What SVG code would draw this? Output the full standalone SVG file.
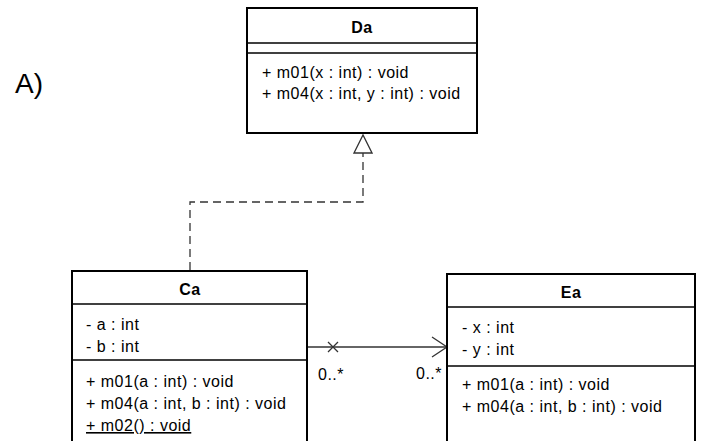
<svg xmlns="http://www.w3.org/2000/svg" width="703" height="441" viewBox="0 0 703 441">
<style>
.box{fill:#fff;stroke:#000;stroke-width:2}
.sep{stroke:#000;stroke-width:1.5}
.t{font-family:"Liberation Sans",Arial,sans-serif;font-size:16px;letter-spacing:0.5px;fill:#000}
.h{font-family:"Liberation Sans",Arial,sans-serif;font-size:16px;font-weight:bold;letter-spacing:0.5px;fill:#000;text-anchor:middle}
.c{fill:none;stroke:#333;stroke-width:1.3}
</style>
<defs>
<marker id="tri" markerWidth="22" markerHeight="20" refX="20" refY="10" orient="auto" markerUnits="userSpaceOnUse">
<path d="M2,1 L20,10 L2,19 Z" fill="#fff" stroke="#333" stroke-width="1.3"/>
</marker>
<marker id="open" markerWidth="18" markerHeight="24" refX="16" refY="12" orient="auto" markerUnits="userSpaceOnUse">
<path d="M1,2 L16,12 L1,22" fill="none" stroke="#333" stroke-width="1.3"/>
</marker>
</defs>
<rect width="703" height="441" fill="#fff"/>
<text x="15" y="93" font-family="'Liberation Sans',Arial,sans-serif" font-size="28">A)</text>
<g id="connectors">
<path class="c" d="M190,270 V202 H363 V135" stroke-dasharray="8,5" marker-end="url(#tri)"/>
<path class="c" d="M307,347 H447" marker-end="url(#open)"/>
<path class="c" d="M328,342 L338,352 M338,342 L328,352"/>
<text class="t" x="318" y="380">0..*</text>
<text class="t" x="416" y="379">0..*</text>
</g>
<g id="Da">
<rect class="box" x="247" y="8" width="230" height="125"/>
<line class="sep" x1="247" y1="43" x2="477" y2="43"/>
<line class="sep" x1="247" y1="53" x2="477" y2="53"/>
<text class="h" x="362" y="33">Da</text>
<text class="t" x="262" y="78">+ m01(x : int) : void</text>
<text class="t" x="262" y="99">+ m04(x : int, y : int) : void</text>
</g>
<g id="Ca">
<rect class="box" x="72" y="271" width="235" height="180"/>
<line class="sep" x1="72" y1="304" x2="307" y2="304"/>
<line class="sep" x1="72" y1="360" x2="307" y2="360"/>
<text class="h" x="190" y="295">Ca</text>
<text class="t" x="86" y="330">- a : int</text>
<text class="t" x="86" y="352">- b : int</text>
<text class="t" x="86" y="387">+ m01(a : int) : void</text>
<text class="t" x="86" y="409">+ m04(a : int, b : int) : void</text>
<text class="t" x="86" y="431" text-decoration="underline">+ m02() : void</text>
</g>
<g id="Ea">
<rect class="box" x="447" y="274" width="248" height="180"/>
<line class="sep" x1="447" y1="307" x2="695" y2="307"/>
<line class="sep" x1="447" y1="366" x2="695" y2="366"/>
<text class="h" x="571" y="298">Ea</text>
<text class="t" x="462" y="333">- x : int</text>
<text class="t" x="462" y="355">- y : int</text>
<text class="t" x="462" y="390">+ m01(a : int) : void</text>
<text class="t" x="462" y="412">+ m04(a : int, b : int) : void</text>
</g>
</svg>
